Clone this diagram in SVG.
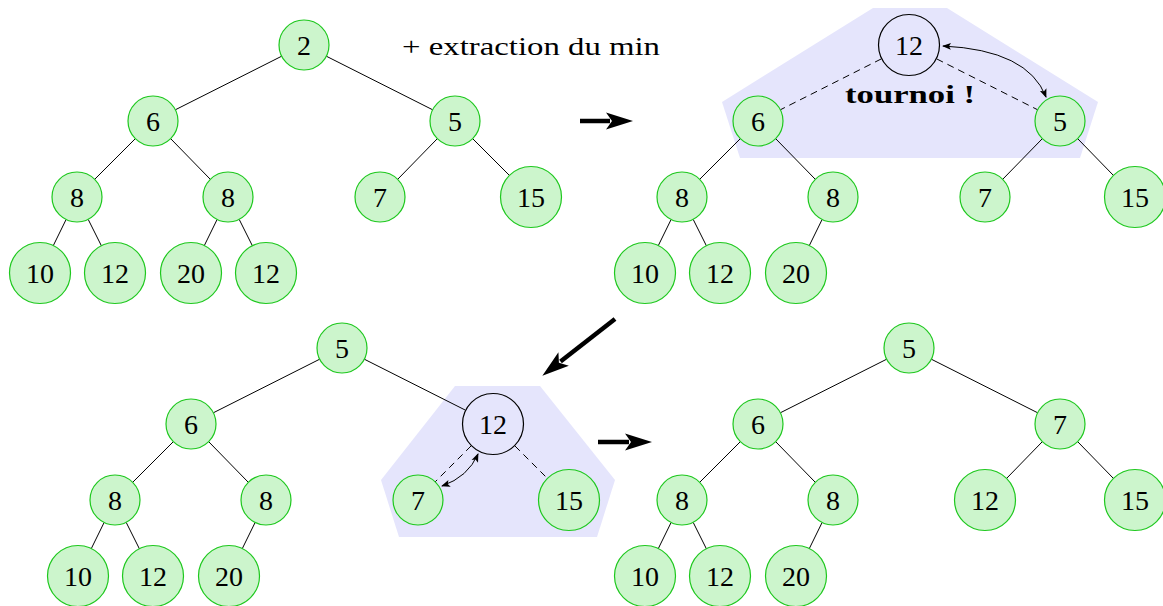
<svg xmlns="http://www.w3.org/2000/svg" width="1163" height="606" viewBox="0 0 1163 606">
<style>
.n circle{fill:#ccf5cc;stroke:#1ec81e;stroke-width:1.2}
.w circle{fill:none;stroke:#000;stroke-width:1.2}
text{font-family:"Liberation Serif","DejaVu Serif",serif;font-size:28px;fill:#000}
.n text,.w text{text-anchor:middle}
.e line{stroke:#000;stroke-width:1}
.e line.d{stroke-dasharray:7,5}
.e line.big{stroke:#000;stroke-width:4.5;fill:none}
.zone{fill:#e5e5fc}
</style>
<defs>
<marker id="sm" viewBox="-8 -4 10 8" refX="0" refY="0" markerWidth="10" markerHeight="8" markerUnits="userSpaceOnUse" orient="auto-start-reverse">
<path d="M-8,-3.5 L1,0 L-8,3.5 L-6,0 z" fill="#000"/>
</marker>
<marker id="bg" viewBox="-6 -10 32 20" refX="0" refY="0" markerWidth="32" markerHeight="20" markerUnits="userSpaceOnUse" orient="auto" overflow="visible">
<path d="M-4,-8.5 L23,0 L-4,8.5 L2,0 z" fill="#000"/>
</marker>
</defs>

<polygon class="zone" points="873,8 947,8 1098,102 1080,158 740,158 722,102"/>
<polygon class="zone" points="455,386 540,386 615,480 597,537 399,537 381,480"/>

<g id="connectors" class="e">
<line x1="281.7" y1="56.2" x2="175.3" y2="109.8"/>
<line x1="326.3" y1="56.2" x2="432.7" y2="109.8"/>
<line x1="135.3" y1="138.7" x2="94.7" y2="179.3"/>
<line x1="170.7" y1="138.7" x2="210.3" y2="179.3"/>
<line x1="437.3" y1="138.7" x2="397.7" y2="179.3"/>
<line x1="472.7" y1="138.7" x2="509.8" y2="175.8"/>
<line x1="66.1" y1="219.5" x2="53.1" y2="246"/>
<line x1="88.2" y1="219.4" x2="101.6" y2="246.2"/>
<line x1="217.1" y1="219.5" x2="204.1" y2="246"/>
<line x1="239.2" y1="219.4" x2="252.6" y2="246.2"/>

<line class="d" x1="881.3" y1="58.9" x2="780.3" y2="109.8"/>
<line class="d" x1="936.7" y1="58.9" x2="1037.7" y2="109.8"/>
<line x1="740.3" y1="138.7" x2="699.7" y2="179.3"/>
<line x1="775.7" y1="138.7" x2="815.3" y2="179.3"/>
<line x1="1042.3" y1="138.7" x2="1002.7" y2="179.3"/>
<line x1="1077.7" y1="138.7" x2="1113.8" y2="175.8"/>
<line x1="671.1" y1="219.5" x2="658.1" y2="246"/>
<line x1="693.2" y1="219.4" x2="706.6" y2="246.2"/>
<line x1="822.1" y1="219.5" x2="809.1" y2="246"/>

<line x1="319.7" y1="359.2" x2="213.3" y2="412.8"/>
<line x1="364.3" y1="359.2" x2="465.3" y2="410.1"/>
<line x1="173.3" y1="441.7" x2="132.7" y2="482.3"/>
<line x1="208.7" y1="441.7" x2="248.3" y2="482.3"/>
<line class="d" x1="471.1" y1="445.9" x2="434.7" y2="482.3"/>
<line class="d" x1="514.9" y1="445.9" x2="547.1" y2="478.1"/>
<line x1="104.1" y1="522.5" x2="91.1" y2="549"/>
<line x1="126.2" y1="522.4" x2="139.6" y2="549.2"/>
<line x1="255.1" y1="522.5" x2="242.1" y2="549"/>

<line x1="886.7" y1="359.2" x2="780.3" y2="412.8"/>
<line x1="931.3" y1="359.2" x2="1037.7" y2="412.8"/>
<line x1="740.3" y1="441.7" x2="699.7" y2="482.3"/>
<line x1="775.7" y1="441.7" x2="815.3" y2="482.3"/>
<line x1="1042.3" y1="441.7" x2="1006.2" y2="478.8"/>
<line x1="1077.7" y1="441.7" x2="1113.8" y2="478.8"/>
<line x1="671.1" y1="522.5" x2="658.1" y2="549"/>
<line x1="693.2" y1="522.4" x2="706.6" y2="549.2"/>
<line x1="822.1" y1="522.5" x2="809.1" y2="549"/>

<path d="M943,46 Q1028,50 1046,97" fill="none" stroke="#000" stroke-width="1" marker-start="url(#sm)" marker-end="url(#sm)"/>
<path d="M442,486 Q468,477 478,454" fill="none" stroke="#000" stroke-width="1" marker-start="url(#sm)" marker-end="url(#sm)"/>

<line class="big" x1="580" y1="121" x2="610" y2="121" marker-end="url(#bg)"/>
<line class="big" x1="615" y1="319" x2="560.5" y2="361.5" marker-end="url(#bg)"/>
<line class="big" x1="598" y1="442" x2="629" y2="442" marker-end="url(#bg)"/>
</g>

<text x="402" y="55" style="font-size:25px" textLength="258" lengthAdjust="spacingAndGlyphs">+ extraction du min</text>
<text x="845" y="103" style="font-weight:bold;font-size:26px" textLength="130" lengthAdjust="spacingAndGlyphs">tournoi !</text>

<!-- Tree 1 -->
<g id="t1-2" class="n"><circle cx="304" cy="45" r="25"/><text x="304" y="55">2</text></g>
<g id="t1-6" class="n"><circle cx="153" cy="121" r="25"/><text x="153" y="131">6</text></g>
<g id="t1-5" class="n"><circle cx="455" cy="121" r="25"/><text x="455" y="131">5</text></g>
<g id="t1-8a" class="n"><circle cx="77" cy="197" r="25"/><text x="77" y="207">8</text></g>
<g id="t1-8b" class="n"><circle cx="228" cy="197" r="25"/><text x="228" y="207">8</text></g>
<g id="t1-7" class="n"><circle cx="380" cy="197" r="25"/><text x="380" y="207">7</text></g>
<g id="t1-15" class="n"><circle cx="531" cy="197" r="30.5"/><text x="531" y="207">15</text></g>
<g id="t1-10" class="n"><circle cx="40" cy="273" r="30.5"/><text x="40" y="283">10</text></g>
<g id="t1-12a" class="n"><circle cx="115" cy="273" r="30.5"/><text x="115" y="283">12</text></g>
<g id="t1-20" class="n"><circle cx="191" cy="273" r="30.5"/><text x="191" y="283">20</text></g>
<g id="t1-12b" class="n"><circle cx="266" cy="273" r="30.5"/><text x="266" y="283">12</text></g>

<!-- Tree 2 -->
<g id="t2-12" class="w"><circle cx="909" cy="45" r="30.5"/><text x="909" y="55">12</text></g>
<g id="t2-6" class="n"><circle cx="758" cy="121" r="25"/><text x="758" y="131">6</text></g>
<g id="t2-5" class="n"><circle cx="1060" cy="121" r="25"/><text x="1060" y="131">5</text></g>
<g id="t2-8a" class="n"><circle cx="682" cy="197" r="25"/><text x="682" y="207">8</text></g>
<g id="t2-8b" class="n"><circle cx="833" cy="197" r="25"/><text x="833" y="207">8</text></g>
<g id="t2-7" class="n"><circle cx="985" cy="197" r="25"/><text x="985" y="207">7</text></g>
<g id="t2-15" class="n"><circle cx="1135" cy="197" r="30.5"/><text x="1135" y="207">15</text></g>
<g id="t2-10" class="n"><circle cx="645" cy="273" r="30.5"/><text x="645" y="283">10</text></g>
<g id="t2-12a" class="n"><circle cx="720" cy="273" r="30.5"/><text x="720" y="283">12</text></g>
<g id="t2-20" class="n"><circle cx="796" cy="273" r="30.5"/><text x="796" y="283">20</text></g>

<!-- Tree 3 -->
<g id="t3-5" class="n"><circle cx="342" cy="348" r="25"/><text x="342" y="358">5</text></g>
<g id="t3-6" class="n"><circle cx="191" cy="424" r="25"/><text x="191" y="434">6</text></g>
<g id="t3-12" class="w"><circle cx="493" cy="424" r="30.5"/><text x="493" y="434">12</text></g>
<g id="t3-8a" class="n"><circle cx="115" cy="500" r="25"/><text x="115" y="510">8</text></g>
<g id="t3-8b" class="n"><circle cx="266" cy="500" r="25"/><text x="266" y="510">8</text></g>
<g id="t3-7" class="n"><circle cx="418" cy="500" r="25"/><text x="418" y="510">7</text></g>
<g id="t3-15" class="n"><circle cx="569" cy="500" r="30.5"/><text x="569" y="510">15</text></g>
<g id="t3-10" class="n"><circle cx="78" cy="576" r="30.5"/><text x="78" y="586">10</text></g>
<g id="t3-12a" class="n"><circle cx="153" cy="576" r="30.5"/><text x="153" y="586">12</text></g>
<g id="t3-20" class="n"><circle cx="229" cy="576" r="30.5"/><text x="229" y="586">20</text></g>

<!-- Tree 4 -->
<g id="t4-5" class="n"><circle cx="909" cy="348" r="25"/><text x="909" y="358">5</text></g>
<g id="t4-6" class="n"><circle cx="758" cy="424" r="25"/><text x="758" y="434">6</text></g>
<g id="t4-7" class="n"><circle cx="1060" cy="424" r="25"/><text x="1060" y="434">7</text></g>
<g id="t4-8a" class="n"><circle cx="682" cy="500" r="25"/><text x="682" y="510">8</text></g>
<g id="t4-8b" class="n"><circle cx="833" cy="500" r="25"/><text x="833" y="510">8</text></g>
<g id="t4-12" class="n"><circle cx="985" cy="500" r="30.5"/><text x="985" y="510">12</text></g>
<g id="t4-15" class="n"><circle cx="1135" cy="500" r="30.5"/><text x="1135" y="510">15</text></g>
<g id="t4-10" class="n"><circle cx="645" cy="576" r="30.5"/><text x="645" y="586">10</text></g>
<g id="t4-12a" class="n"><circle cx="720" cy="576" r="30.5"/><text x="720" y="586">12</text></g>
<g id="t4-20" class="n"><circle cx="796" cy="576" r="30.5"/><text x="796" y="586">20</text></g>
</svg>
